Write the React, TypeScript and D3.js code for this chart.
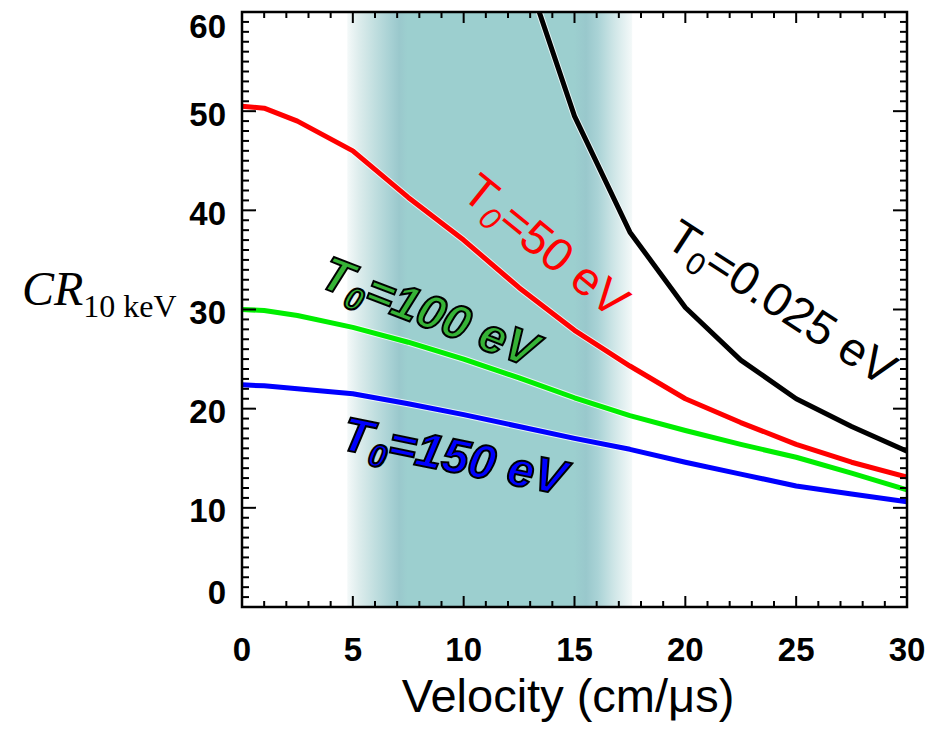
import React from 'react';
import * as d3 from 'd3';

// ---- data ----
const velocity = [0, 1, 2.5, 5, 7.5, 10, 12.5, 15, 17.5, 20, 22.5, 25, 27.5, 30];
const crT50 = [50.5, 50.3, 49.0, 46.0, 41.3, 37.0, 32.2, 27.9, 24.3, 21.0, 18.6, 16.4, 14.6, 13.1];
const crT100 = [30.0, 29.9, 29.4, 28.2, 26.7, 25.0, 23.1, 21.1, 19.3, 17.8, 16.4, 15.1, 13.5, 11.8];
const crT150 = [22.4, 22.3, 22.0, 21.5, 20.5, 19.4, 18.2, 17.0, 15.9, 14.6, 13.4, 12.2, 11.4, 10.6];
const velocityT0025 = [12.5, 15, 17.5, 20, 22.5, 25, 27.5, 30];
const crT0025 = [66, 49.5, 37.8, 30.2, 24.9, 21.0, 18.2, 15.7];

const xTickValues = [0, 5, 10, 15, 20, 25, 30];
const yTickValues = [0, 10, 20, 30, 40, 50, 60];
const xMinorValues = d3.range(0, 31, 1);
const yMinorValues = d3.range(0, 61, 1);

const bandRange = [4.75, 17.6]; // shaded velocity window

const xTitle = 'Velocity (cm/\u03bcs)';
const yTitleMain = 'CR';
const yTitleSub = '10 keV';

const W = 932;
const H = 740;
const left = 242;
const right = 907;
const top = 12;
const bottom = 607;

export default function App() {
  const x = d3.scaleLinear().domain([0, 30]).range([left, right]);
  const y = d3.scaleLinear().domain([0, 60]).range([bottom, top]);

  const line = d3
    .line<[number, number]>()
    .x((d) => x(d[0]))
    .y((d) => y(d[1]))
    .curve(d3.curveLinear);

  const series = [
    { xs: velocity, ys: crT150, color: '#0000ff' },
    { xs: velocity, ys: crT100, color: '#00ee00' },
    { xs: velocity, ys: crT50, color: '#ff0000' },
    { xs: velocityT0025, ys: crT0025, color: '#000000' },
  ];

  const bx0 = x(bandRange[0]);
  const bx1 = x(bandRange[1]);
  const bw = bx1 - bx0;
  const off = (px: number) => (px - bx0) / bw;

  const font = '"Liberation Sans", Arial, Helvetica, sans-serif';

  return (
    <svg
      width={W}
      height={H}
      viewBox={`0 0 ${W} ${H}`}
      style={{ position: 'absolute', left: 0, top: 0, background: '#fff' }}
    >
      <defs>
        <clipPath id="plotClip">
          <rect x={left} y={top} width={right - left} height={bottom - top} />
        </clipPath>
        <linearGradient id="bandGrad" gradientUnits="userSpaceOnUse" x1={bx0} x2={bx1} y1={0} y2={0}>
          <stop offset={0} stopColor="#f4f9f9" />
          <stop offset={off(bx0 + 12)} stopColor="#dcecec" />
          <stop offset={off(bx0 + 28)} stopColor="#c0dedf" />
          <stop offset={off(bx0 + 44)} stopColor="#a6d0d3" />
          <stop offset={off(bx0 + 52)} stopColor="#9ac8cc" />
          <stop offset={off(bx0 + 60)} stopColor="#9ccfcf" />
          <stop offset={off(bx1 - 58)} stopColor="#9ccfcf" />
          <stop offset={off(bx1 - 46)} stopColor="#99c8cc" />
          <stop offset={off(bx1 - 34)} stopColor="#aad3d6" />
          <stop offset={off(bx1 - 18)} stopColor="#cfe6e7" />
          <stop offset={1} stopColor="#f4f9f9" />
        </linearGradient>
      </defs>

      {/* shaded band */}
      <rect x={bx0} y={top} width={bw} height={bottom - top} fill="url(#bandGrad)" />

      {/* curves */}
      <g clipPath="url(#plotClip)" fill="none" strokeLinejoin="round" strokeLinecap="butt">
        {series.map((s, i) => {
          const pts = s.xs.map((v, j) => [v, s.ys[j]] as [number, number]);
          const d = line(pts) || '';
          return (
            <g key={i}>
              <path d={d} stroke="#ffffff" strokeOpacity={0.75} strokeWidth={7} />
              <path d={d} stroke={s.color} strokeWidth={5} />
            </g>
          );
        })}
      </g>

      {/* frame */}
      <rect x={left} y={top} width={right - left} height={bottom - top} fill="none" stroke="#000" strokeWidth={2.5} />

      {/* ticks on all four sides */}
      <g stroke="#000" strokeWidth={2}>
        {xMinorValues.map((v) => {
          const major = v % 5 === 0;
          const len = major ? 11 : 6;
          return (
            <g key={'x' + v}>
              <line x1={x(v)} x2={x(v)} y1={bottom} y2={bottom - len} />
              <line x1={x(v)} x2={x(v)} y1={top} y2={top + len} />
            </g>
          );
        })}
        {yMinorValues.map((v) => {
          const major = v % 10 === 0;
          const len = major ? 14 : 7;
          return (
            <g key={'y' + v}>
              <line x1={left} x2={left + len} y1={y(v)} y2={y(v)} />
              <line x1={right} x2={right - len} y1={y(v)} y2={y(v)} />
            </g>
          );
        })}
      </g>

      {/* tick labels */}
      <g fontFamily={font} fontWeight="bold" fontSize={33} fill="#000">
        {xTickValues.map((v) => (
          <text key={'xl' + v} x={x(v)} y={bottom + 54} textAnchor="middle">
            {v}
          </text>
        ))}
        {yTickValues.map((v, i) => {
          let cy = y(v) + 3;
          if (i === 0) cy = y(v) - 15;
          if (i === yTickValues.length - 1) cy = y(v) + 14;
          return (
            <text key={'yl' + v} x={226} y={cy} textAnchor="end" dominantBaseline="central">
              {v}
            </text>
          );
        })}
      </g>

      {/* axis titles */}
      <text x={568} y={712} textAnchor="middle" fontFamily={font} fontSize={47} fill="#000">
        {xTitle}
      </text>
      <text x={22} y={305} fontFamily='"Liberation Serif", "Times New Roman", serif' fontSize={48} fontStyle="italic" fill="#000">
        {yTitleMain}
        <tspan fontStyle="normal" fontSize={32} dy={12}>
          {yTitleSub}
        </tspan>
      </text>

      {/* curve labels */}
      <text transform="translate(536,258) rotate(39)" textAnchor="middle" fontFamily={font} fontSize={47} fill="#ff0000">
        T<tspan fontSize={31} dy={9} fontStyle="italic">0</tspan>
        <tspan dy={-9}>=50 eV</tspan>
      </text>
      <text transform="translate(773,316) rotate(33)" textAnchor="middle" fontFamily={font} fontSize={47} fill="#000">
        T<tspan fontSize={31} dy={9}>0</tspan>
        <tspan dy={-9}>=0.025 eV</tspan>
      </text>
      <text
        transform="translate(424,327) rotate(21)"
        textAnchor="middle"
        fontFamily={font}
        fontSize={48}
        fontWeight="bold"
        fontStyle="italic"
        fill="#36b336"
        stroke="#000"
        strokeWidth={2}
      >
        T<tspan fontSize={32} dy={10}>0</tspan>
        <tspan dy={-10}>=100 eV</tspan>
      </text>
      <text
        transform="translate(451,472) rotate(11.7)"
        textAnchor="middle"
        fontFamily={font}
        fontSize={48}
        fontWeight="bold"
        fontStyle="italic"
        fill="#0000ff"
        stroke="#000"
        strokeWidth={2}
      >
        T<tspan fontSize={32} dy={10}>0</tspan>
        <tspan dy={-10}>=150 eV</tspan>
      </text>
    </svg>
  );
}
